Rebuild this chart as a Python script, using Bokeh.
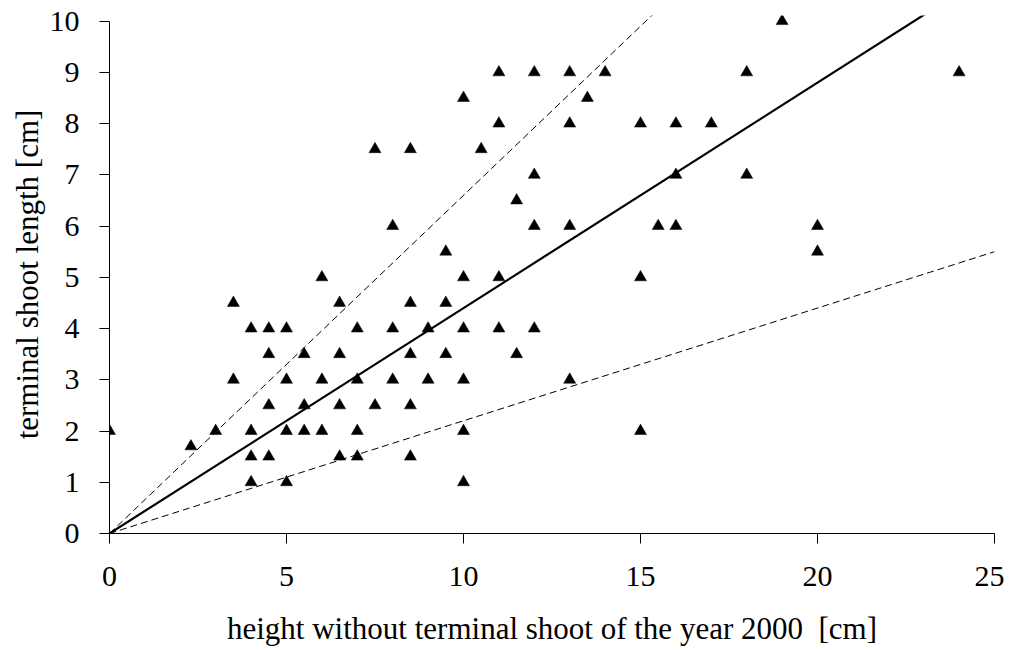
from bokeh.plotting import figure
from bokeh.models import Range1d, FixedTicker
from bokeh.embed import file_html
from bokeh.resources import INLINE
import numpy as np

# height without terminal shoot of the year 2000 [cm]
x_vals = [0, 2.3, 3, 3.5, 3.5, 4, 4, 4, 4, 4.5, 4.5, 4.5, 4.5, 5, 5, 5, 5,
          5.5, 5.5, 5.5, 6, 6, 6, 6.5, 6.5, 6.5, 6.5, 7, 7, 7, 7, 7.5, 7.5,
          8, 8, 8, 8.5, 8.5, 8.5, 8.5, 8.5, 9, 9, 9.5, 9.5, 9.5,
          10, 10, 10, 10, 10, 10, 10.5, 11, 11, 11, 11, 11.5, 11.5,
          12, 12, 12, 12, 13, 13, 13, 13, 13.5, 14, 15, 15, 15, 15.5,
          16, 16, 16, 17, 18, 18, 19, 20, 20, 24]
# terminal shoot length [cm]
y_vals = [2, 1.7, 2, 3, 4.5, 1, 1.5, 2, 4, 1.5, 2.5, 3.5, 4, 1, 2, 3, 4,
          2, 2.5, 3.5, 2, 3, 5, 1.5, 2.5, 3.5, 4.5, 1.5, 2, 3, 4, 2.5, 7.5,
          3, 4, 6, 1.5, 2.5, 3.5, 4.5, 7.5, 3, 4, 3.5, 4.5, 5.5,
          1, 2, 3, 4, 5, 8.5, 7.5, 4, 5, 8, 9, 3.5, 6.5,
          4, 6, 7, 9, 3, 6, 8, 9, 8.5, 9, 2, 5, 8, 6,
          6, 7, 8, 8, 7, 9, 10, 5.5, 6, 9]

# line slopes: mean ratio (solid), +50% and -50% (dashed)
slope_mean = 0.44
slope_upper = 0.66
slope_lower = 0.22

x_ticks = [0, 5, 10, 15, 20, 25]
y_ticks = [0, 1, 2, 3, 4, 5, 6, 7, 8, 9, 10]

FONT = "Liberation Serif"

p = figure(width=1004, height=648, output_backend="svg", toolbar_location=None,
           x_range=Range1d(0, 25), y_range=Range1d(0, 10.11),
           min_border_left=109, min_border_right=10, min_border_top=15,
           min_border_bottom=115)
p.outline_line_color = None
p.xgrid.visible = False
p.ygrid.visible = False
p.background_fill_color = "white"
p.border_fill_color = "white"

lx = np.array([0.0, 25.0])
p.line(lx, slope_upper * lx, line_color="black", line_width=1, line_dash="7 4")
p.line(lx, slope_lower * lx, line_color="black", line_width=1, line_dash="7 4")
p.line(lx, slope_mean * lx, line_color="black", line_width=2.2)

p.scatter(x_vals, y_vals, marker="triangle", size=12, fill_color="black",
          line_color="black", line_width=0.5)

for ax in (p.xaxis[0], p.yaxis[0]):
    ax.axis_line_color = "black"
    ax.axis_line_width = 1
    ax.major_tick_line_color = "black"
    ax.minor_tick_line_color = None
    ax.major_tick_in = 0
    ax.major_tick_out = 10
    ax.major_label_text_font = FONT
    ax.major_label_text_font_size = "30px"
    ax.major_label_text_color = "black"
    ax.axis_label_text_font = FONT
    ax.axis_label_text_font_size = "31px"
    ax.axis_label_text_font_style = "normal"
    ax.axis_label_text_color = "black"

p.xaxis.ticker = FixedTicker(ticks=x_ticks)
p.yaxis.ticker = FixedTicker(ticks=y_ticks)
p.yaxis.bounds = (0, 10)
p.xaxis.major_label_standoff = 23
p.yaxis.major_label_standoff = 20
p.xaxis.axis_label = "height without terminal shoot of the year 2000\u00a0 [cm]"
p.yaxis.axis_label = "terminal shoot length [cm]"
p.xaxis.axis_label_standoff = 22
p.yaxis.axis_label_standoff = 2

open("out.html", "w").write(file_html(p, INLINE))
